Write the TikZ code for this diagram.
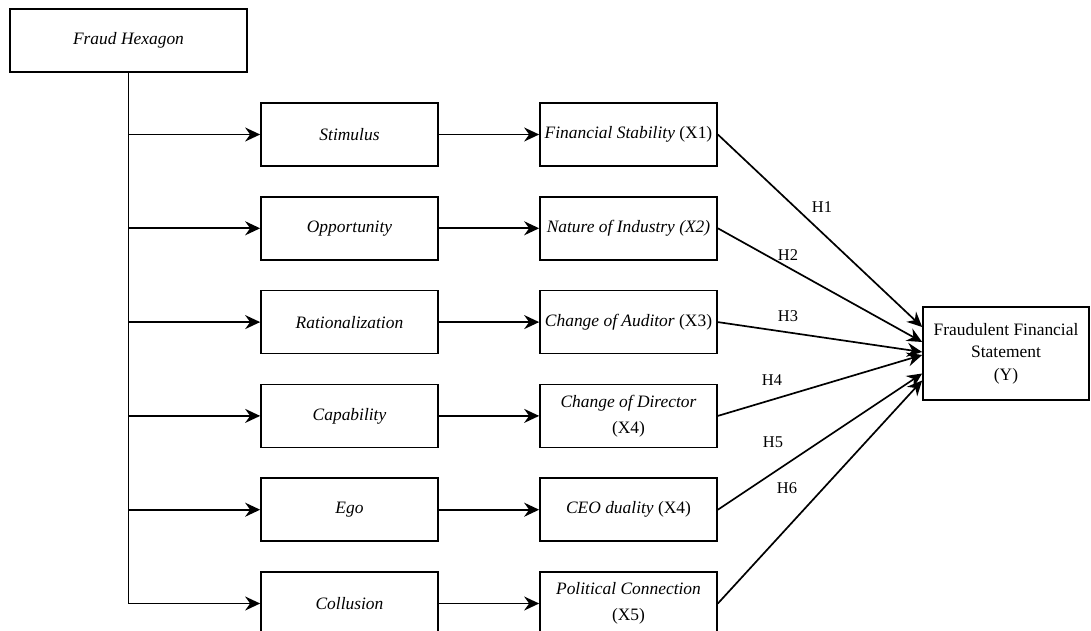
\documentclass[tikz,border=0pt]{standalone}
\usepackage{fontspec}
\setmainfont{Liberation Serif}
\usetikzlibrary{arrows.meta}
\begin{document}
\begin{tikzpicture}[x=1bp,y=-1bp,
  box/.style={draw,line width=1.7bp,minimum width=177bp,minimum height=63bp,inner sep=2bp,align=center,font=\fontsize{17.5}{22.5}\selectfont},
  tall/.style={font=\fontsize{17.5}{26}\selectfont},
  conn/.style={line width=1.7bp,-{Stealth[length=15bp,width=14bp,inset=5bp]}},
  plain/.style={line width=1.7bp},
  hlab/.style={font=\fontsize{16.5}{19}\selectfont,inner sep=0pt}]
\useasboundingbox (0,0) rectangle (1091,631);
\node[box,minimum width=237bp] (fh) at (128.5,40.5) {\itshape Fraud Hexagon};
% left column
\node[box] (s1) at (349.5,134.5) {\itshape Stimulus};
\node[box] (s2) at (349.5,228.3) {\itshape Opportunity};
\node[box] (s3) at (349.5,322.1) {\itshape Rationalization};
\node[box] (s4) at (349.5,415.9) {\itshape Capability};
\node[box] (s5) at (349.5,509.7) {\itshape Ego};
\node[box] (s6) at (349.5,603.5) {\itshape Collusion};
% middle column
\node[box] (m1) at (628.5,134.5) {\textit{Financial Stability} (X1)};
\node[box] (m2) at (628.5,228.3) {\textit{Nature of Industry (X2)}};
\node[box] (m3) at (628.5,322.1) {\textit{Change of Auditor} (X3)};
\node[box,tall] (m4) at (628.5,415.9) {\textit{Change of Director}\\(X4)};
\node[box] (m5) at (628.5,509.7) {\textit{CEO duality} (X4)};
\node[box,tall] (m6) at (628.5,603.5) {\textit{Political Connection}\\(X5)};
% dependent
\node[box,minimum width=166bp,minimum height=93bp] (y) at (1006,353.5) {Fraudulent Financial\\Statement\\(Y)};
% trunk
\draw[plain] (fh.south) -- (fh.south |- s6);
\foreach \i in {1,...,6}{
  \draw[conn] (fh.south |- s\i) -- (s\i.west);
  \draw[conn] (s\i.east) -- (m\i.west);
}
% hypotheses
\draw[conn] (m1.east) -- ([yshift=26.5bp]y.west);
\draw[conn] (m2.east) -- ([yshift=11.5bp]y.west);
\draw[conn] (m3.east) -- ([yshift=1.5bp]y.west);
\draw[conn] (m4.east) -- ([yshift=-1.5bp]y.west);
\draw[conn] (m5.east) -- ([yshift=-20bp]y.west);
\draw[conn] (m6.east) -- ([yshift=-27bp]y.west);
\node[hlab] (h1) at (822,207) {H1};
\node[hlab] (h2) at (788,255) {H2};
\node[hlab] (h3) at (788,316) {H3};
\node[hlab] (h4) at (772,380) {H4};
\node[hlab] (h5) at (773,442) {H5};
\node[hlab] (h6) at (787,488) {H6};
\end{tikzpicture}
\end{document}
